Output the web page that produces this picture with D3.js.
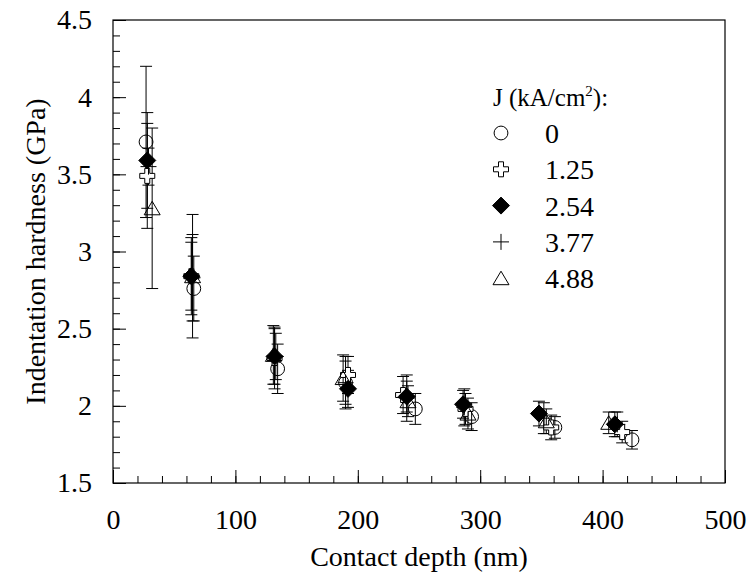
<!DOCTYPE html>
<html>
<head>
<meta charset="utf-8">
<script src="https://cdn.jsdelivr.net/npm/d3@7.9.0/dist/d3.min.js"></script>
<style>
  body { margin: 0; background: #fff; }
</style>
</head>
<body>
<svg width="751" height="575"></svg>
<script>
// data
const depth0   = [27, 66, 134.5, 190, 247, 293, 361, 424];
const hard0    = [3.71, 2.76, 2.24, 2.15, 1.98, 1.93, 1.86, 1.78];
const err0     = [0.49, 0.21, 0.16, 0.14, 0.10, 0.09, 0.07, 0.06];

const depth125 = [28, 64, 132, 192, 237, 288, 358, 416];
const hard125  = [3.49, 2.84, 2.31, 2.20, 2.07, 1.98, 1.86, 1.83];
const err125   = [0.34, 0.22, 0.20, 0.12, 0.12, 0.10, 0.08, 0.07];

const depth254 = [28, 64, 132, 192, 240, 286, 348, 410];
const hard254  = [3.59, 2.84, 2.32, 2.11, 2.06, 2.01, 1.95, 1.88];
const err254   = [0.31, 0.25, 0.18, 0.12, 0.10, 0.09, 0.08, 0.08];

const depth377 = [29, 65, 133, 190, 240, 287, 352, 412];
const hard377  = [3.55, 2.83, 2.32, 2.15, 2.05, 1.99, 1.92, 1.88];
const err377   = [0.12, 0.28, 0.15, 0.17, 0.15, 0.12, 0.10, 0.08];

const depth488 = [32, 65, 131, 188, 241, 290, 354, 405];
const hard488  = [3.28, 2.84, 2.33, 2.18, 2.03, 1.95, 1.90, 1.89];
const err488   = [0.52, 0.40, 0.19, 0.15, 0.10, 0.10, 0.08, 0.07];

const seriesLabels = ["0", "1.25", "2.54", "3.77", "4.88"];
const xTicks = [0, 100, 200, 300, 400, 500];
const yTicks = [1.5, 2, 2.5, 3, 3.5, 4, 4.5];

const FONT = "Liberation Serif";
const margin = { left: 113, right: 26, top: 20, bottom: 92 };
const width = 751 - margin.left - margin.right;
const height = 575 - margin.top - margin.bottom;

const svg = d3.select("svg");
const g = svg.append("g").attr("transform", `translate(${margin.left},${margin.top})`);

const x = d3.scaleLinear().domain([0, 500]).range([0, width]);
const y = d3.scaleLinear().domain([1.5, 4.5]).range([height, 0]);

// minor ticks
g.append("g").attr("transform", `translate(0,${height})`)
  .call(d3.axisBottom(x).tickValues(d3.range(0, 501, 20)).tickSize(-7).tickFormat(""))
  .call(a => a.select(".domain").remove());
g.append("g")
  .call(d3.axisLeft(y).tickValues(d3.range(15, 46, 1).map(v => v / 10)).tickSize(-7).tickFormat(""))
  .call(a => a.select(".domain").remove());

// major ticks + labels
const xAxis = g.append("g").attr("transform", `translate(0,${height})`)
  .call(d3.axisBottom(x).tickValues(xTicks).tickSize(-13).tickPadding(26).tickFormat(d3.format("d")));
const yAxis = g.append("g")
  .call(d3.axisLeft(y).tickValues(yTicks).tickSize(-13).tickPadding(21).tickFormat(d => String(d)));
[xAxis, yAxis].forEach(a => {
  a.attr("font-family", FONT).attr("font-size", 28);
  a.select(".domain").remove();
});
g.selectAll(".tick line").attr("stroke", "#000").attr("stroke-width", 1);

// frame
g.append("rect").attr("width", width).attr("height", height)
  .attr("fill", "none").attr("stroke", "#000").attr("stroke-width", 1.2);

// axis titles
svg.append("text").attr("x", margin.left + width / 2).attr("y", 566)
  .attr("text-anchor", "middle").attr("font-size", 28).attr("font-family", FONT)
  .text("Contact depth (nm)");
svg.append("text").attr("transform", `translate(45,${margin.top + height / 2}) rotate(-90)`)
  .attr("text-anchor", "middle").attr("font-size", 28).attr("font-family", FONT)
  .text("Indentation hardness (GPa)");

// marker shapes
const sym = {
  circle: () => d3.symbol(d3.symbolCircle, 150)(),
  cross: () => "M-2.5,-7.5H2.5V-2.5H7.5V2.5H2.5V7.5H-2.5V2.5H-7.5V-2.5H-2.5Z",
  diamond: () => "M0,-8.5L8.5,0L0,8.5L-8.5,0Z",
  plus: () => "M0,-8V8M-8,0H8",
  triangle: () => "M0,-7L8,6.5H-8Z"
};
const styles = [
  { shape: "circle", fill: "none" },
  { shape: "cross", fill: "#fff" },
  { shape: "diamond", fill: "#000" },
  { shape: "plus", fill: "none" },
  { shape: "triangle", fill: "none" }
];

const allSeries = [
  [depth0, hard0, err0],
  [depth125, hard125, err125],
  [depth254, hard254, err254],
  [depth377, hard377, err377],
  [depth488, hard488, err488]
].map(([d, h, e], i) => ({ i, pts: d.map((v, k) => ({ d: v, h: h[k], e: e[k] })) }));

// error bars
allSeries.forEach(s => {
  const eb = g.append("g").attr("stroke", "#000").attr("stroke-width", 1).attr("fill", "none");
  s.pts.forEach(p => {
    const cx = x(p.d), y1 = y(p.h + p.e), y2 = y(p.h - p.e);
    eb.append("line").attr("x1", cx).attr("x2", cx).attr("y1", y1).attr("y2", y2);
    eb.append("line").attr("x1", cx - 6).attr("x2", cx + 6).attr("y1", y1).attr("y2", y1);
    eb.append("line").attr("x1", cx - 6).attr("x2", cx + 6).attr("y1", y2).attr("y2", y2);
  });
});

// markers
allSeries.forEach(s => {
  const st = styles[s.i];
  g.append("g").selectAll("path").data(s.pts).join("path")
    .attr("transform", p => `translate(${x(p.d)},${y(p.h)})`)
    .attr("d", sym[st.shape]())
    .attr("fill", st.fill).attr("stroke", "#000").attr("stroke-width", 1);
});

// legend
const lg = svg.append("g").attr("transform", "translate(493,0)")
  .attr("font-family", FONT);
const title = lg.append("text").attr("x", 0).attr("y", 106).attr("font-size", 25);
title.append("tspan").text("J (kA/cm");
title.append("tspan").attr("dy", -10).attr("font-size", 15).text("2");
title.append("tspan").attr("dy", 10).text("):");
seriesLabels.forEach((lab, i) => {
  const yy = 133 + i * 36.3;
  const st = styles[i];
  lg.append("path").attr("transform", `translate(8,${yy})`).attr("d", sym[st.shape]())
    .attr("fill", st.fill).attr("stroke", "#000").attr("stroke-width", 1);
  lg.append("text").attr("x", 52).attr("y", yy + 10).attr("font-size", 28).text(lab);
});
</script>
</body>
</html>
